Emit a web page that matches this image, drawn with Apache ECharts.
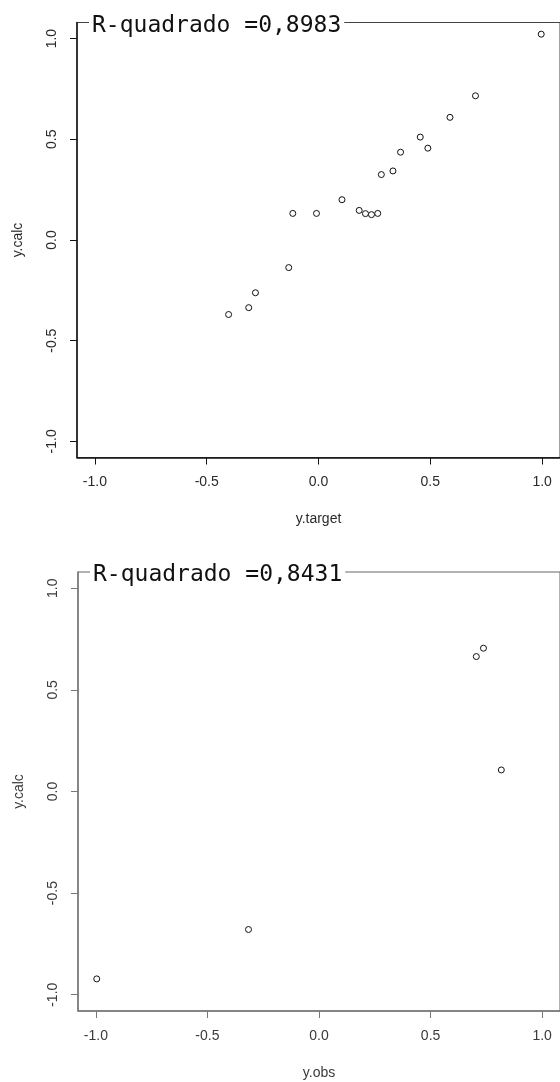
<!DOCTYPE html>
<html><head><meta charset="utf-8">
<script src="https://cdn.jsdelivr.net/npm/echarts@6/dist/echarts.min.js"></script>
<style>html,body{margin:0;padding:0;background:#fff}#c{width:560px;height:1082px}</style>
</head><body><div id="c"></div>
<script>
// ---- data ----
const tickValues = [-1.0, -0.5, 0.0, 0.5, 1.0];
const tickLabels = ['-1.0', '-0.5', '0.0', '0.5', '1.0'];
const axisRange = [-1.08, 1.08];

const plot1Title = 'R-quadrado =0,8983';
const plot1XName = 'y.target';
const plot1YName = 'y.calc';
const plot1X = [0.996, 0.702, 0.588, 0.455, 0.489, 0.367, 0.333, 0.281, 0.105, 0.182, 0.210, 0.237, 0.265, -0.009, -0.115, -0.133, -0.282, -0.312, -0.402];
const plot1Y = [1.022, 0.716, 0.609, 0.511, 0.456, 0.436, 0.343, 0.325, 0.200, 0.147, 0.131, 0.126, 0.132, 0.132, 0.132, -0.137, -0.262, -0.336, -0.370];

const plot2Title = 'R-quadrado =0,8431';
const plot2XName = 'y.obs';
const plot2YName = 'y.calc';
const plot2X = [0.737, 0.705, 0.817, -0.316, -0.996];
const plot2Y = [0.705, 0.664, 0.106, -0.679, -0.922];

// ---- chart ----
const grids = [
  {left: 77, top: 22.5, width: 488, height: 435},
  {left: 78, top: 572, width: 487, height: 439}
];
const axisColors = ['#111', '#777'];
const labelColors = ['#2a2a2a', '#3a3a3a'];
const fmt = v => { const i = tickValues.indexOf(v); return i >= 0 ? tickLabels[i] : ''; };

function makeAxis(dim, gi, name) {
  const ax = {
    type: 'value', gridIndex: gi, min: axisRange[0], max: axisRange[1],
    name: name, nameLocation: 'middle',
    nameGap: dim === 'x' ? 55 : 52,
    nameTextStyle: {fontFamily: 'Liberation Sans, Arial, sans-serif', fontSize: 14, color: labelColors[gi]},
    axisLine: {show: true, onZero: false, lineStyle: {color: axisColors[gi], width: 1.5}},
    axisTick: {show: true, inside: false, length: 7, customValues: tickValues, lineStyle: {color: axisColors[gi], width: 1}},
    axisLabel: {show: true, customValues: tickValues, formatter: fmt, margin: 18,
      fontFamily: 'Liberation Sans, Arial, sans-serif', fontSize: 14, color: labelColors[gi],
      showMinLabel: true, showMaxLabel: true},
    splitLine: {show: false}
  };
  if (dim === 'y') { ax.axisLabel.rotate = 90; ax.nameRotate = 90; }
  return ax;
}

function makeSeries(gi, xs, ys) {
  return {
    type: 'scatter', xAxisIndex: gi, yAxisIndex: gi,
    data: xs.map((x, i) => [x, ys[i]]),
    symbol: 'circle', symbolSize: 6,
    itemStyle: {color: '#fff', borderColor: '#111', borderWidth: 1, opacity: 1},
    silent: true, animation: false
  };
}

function titleText(gi, text) {
  const g = grids[gi];
  return {
    type: 'text', left: g.left + 12, top: g.top - 8, z: 100,
    style: {text: text, font: '23px "DejaVu Sans Mono", monospace', fill: '#111',
      backgroundColor: '#fff', padding: [0, 3, 0, 3]}
  };
}

const chart = echarts.init(document.getElementById('c'), null, {renderer: 'canvas'});
chart.setOption({
  backgroundColor: '#fff',
  animation: false,
  grid: grids.map((g, i) => Object.assign({show: true, borderColor: i === 0 ? '#444' : '#666', borderWidth: 1, backgroundColor: 'transparent'}, g)),
  xAxis: [makeAxis('x', 0, plot1XName), makeAxis('x', 1, plot2XName)],
  yAxis: [makeAxis('y', 0, plot1YName), makeAxis('y', 1, plot2YName)],
  series: [makeSeries(0, plot1X, plot1Y), makeSeries(1, plot2X, plot2Y)],
  graphic: [titleText(0, plot1Title), titleText(1, plot2Title)]
});
</script></body></html>
